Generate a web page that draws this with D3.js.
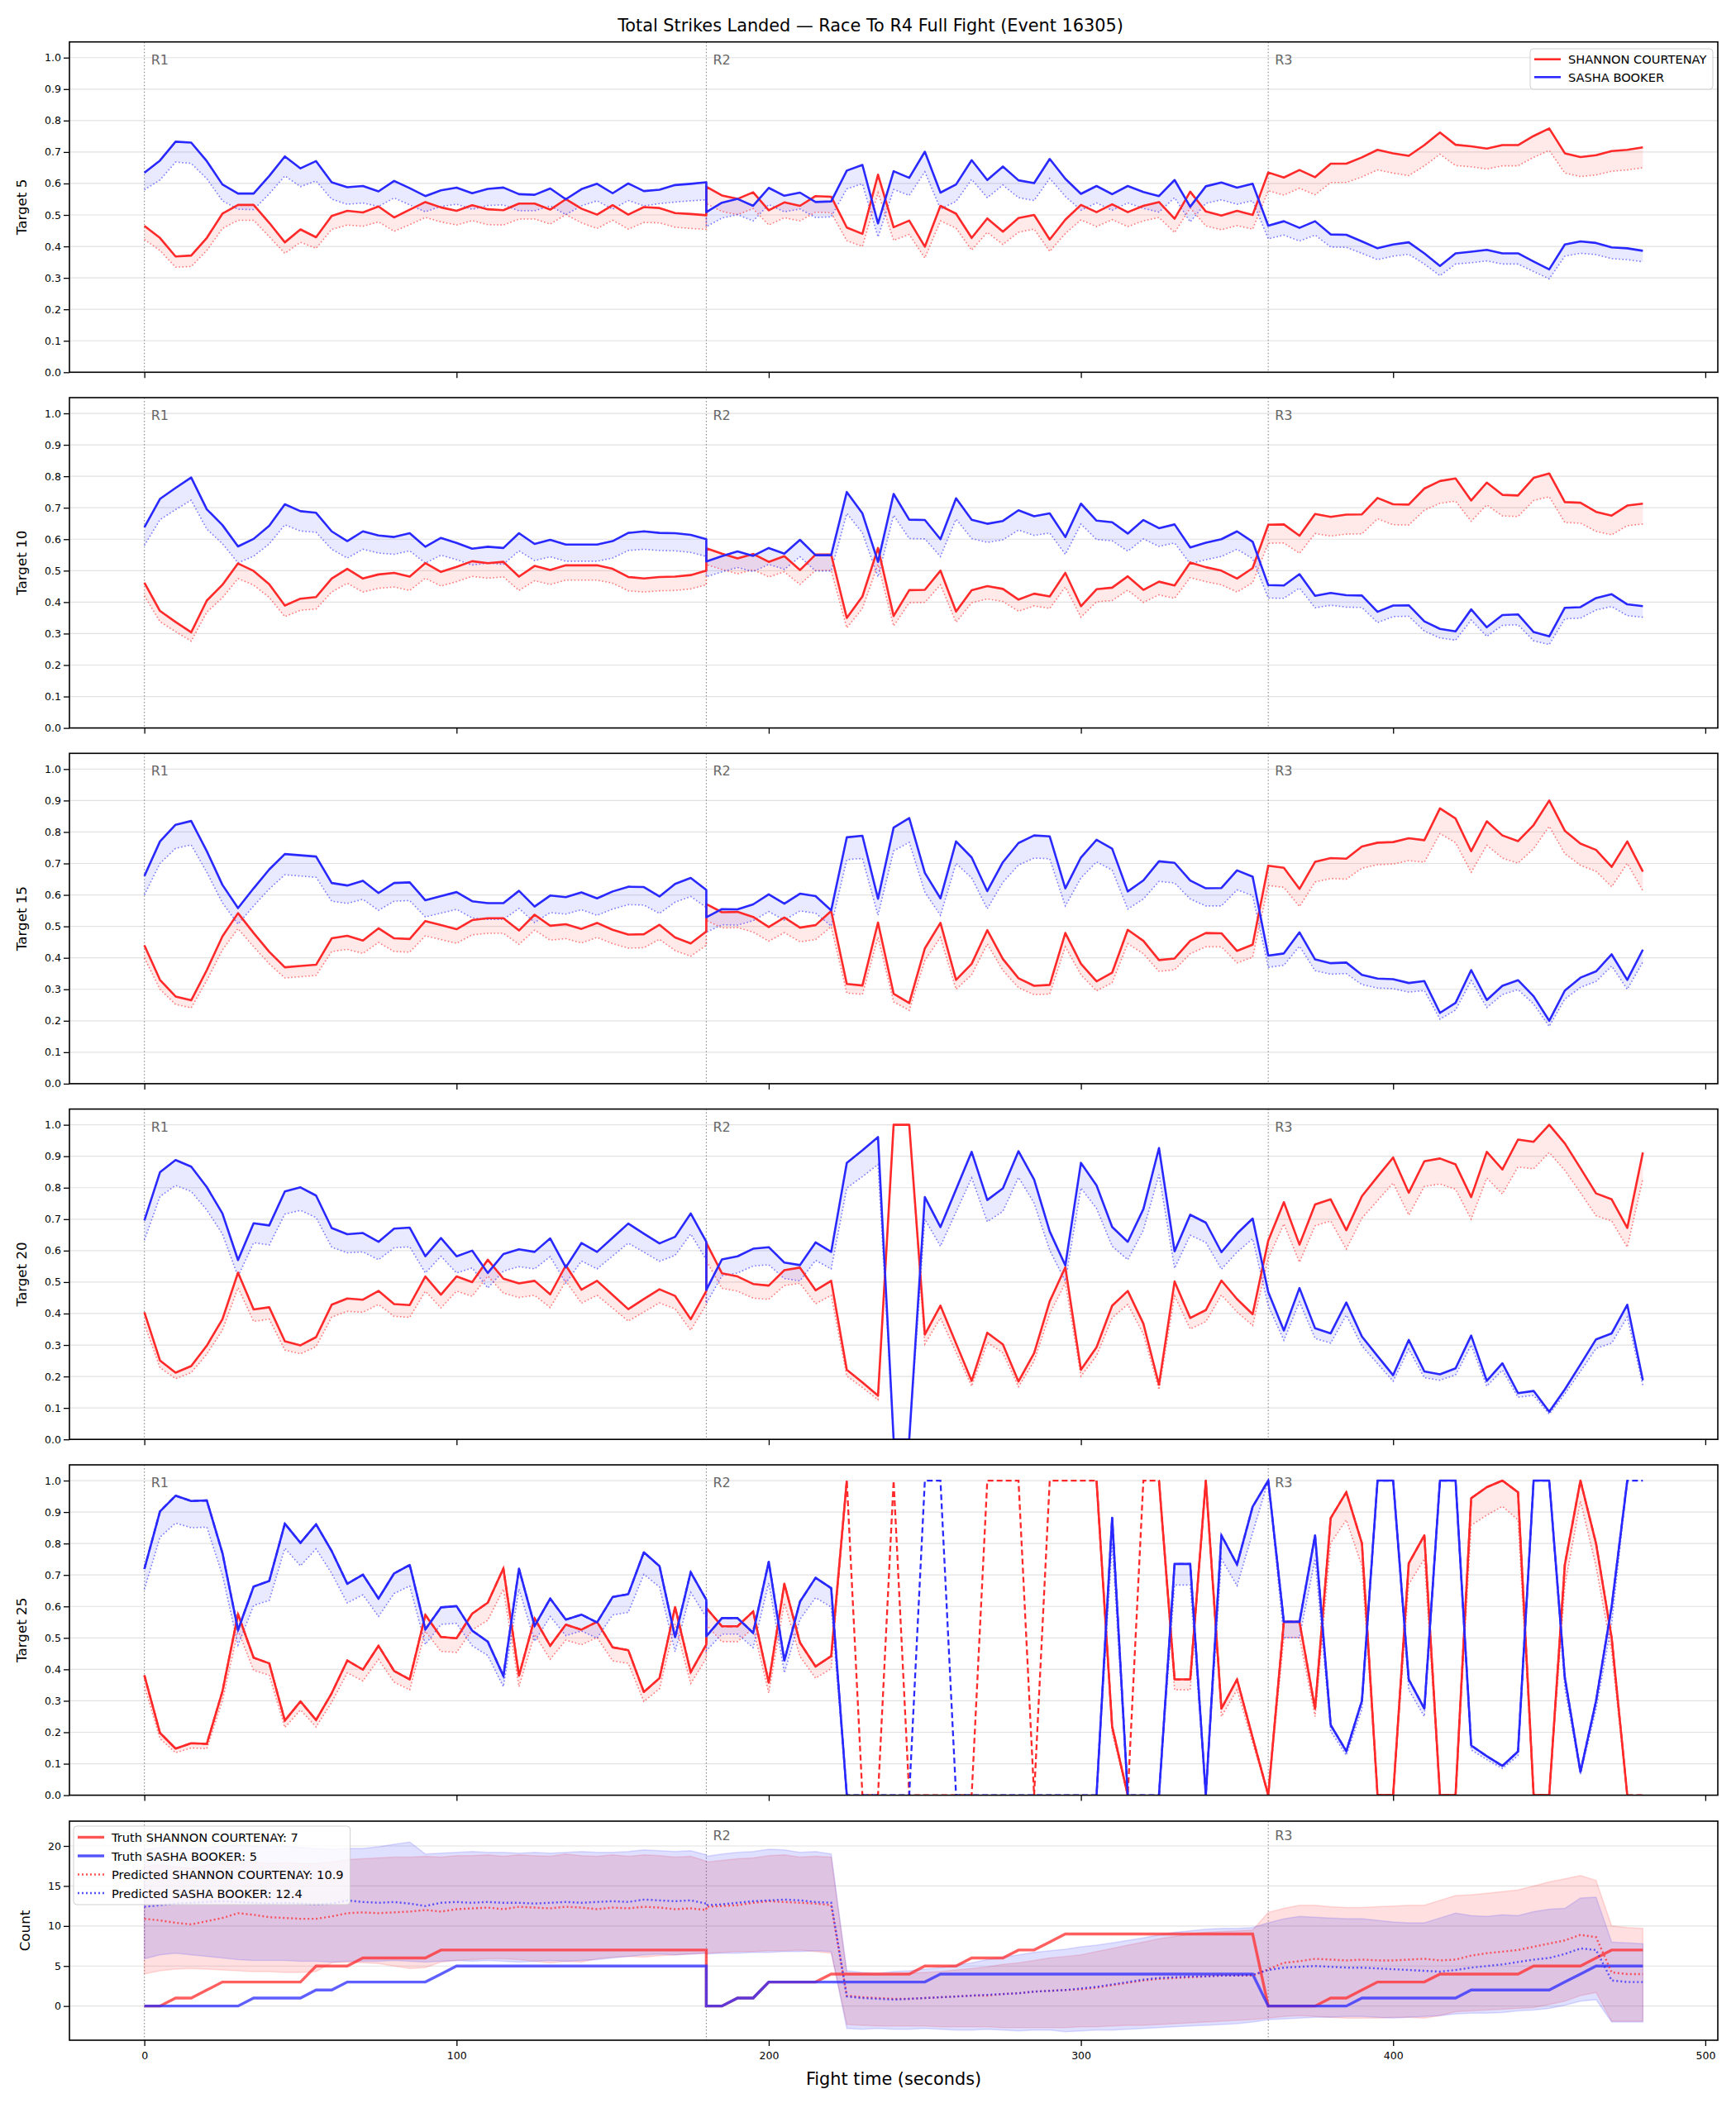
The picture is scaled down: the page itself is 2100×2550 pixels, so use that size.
<!DOCTYPE html>
<html lang="en">
<head>
  <meta charset="UTF-8">
  <title>Total Strikes Landed — Race To R4 Full Fight</title>
  <script src="https://d3js.org/d3.v7.min.js"></script>
  <style>
    body { margin: 0; background: #fff; }
    svg { display: block; font-family: "DejaVu Sans", sans-serif; }
  </style>
</head>
<body>
<svg id="chart" width="2100" height="2550"></svg>
<script>
// -----------------------------
// Data
// -----------------------------
const fighters = ["SHANNON COURTENAY", "SASHA BOOKER"];
const roundStarts = [0, 180, 360];
const roundLabels = ["R1", "R2", "R3"];
const xTicks = [0, 100, 200, 300, 400, 500];

// sample grid: R1 0..180, R2 180..355, R3 360..480 (every 5 s)
const times = [...d3.range(0, 181, 5), ...d3.range(180, 356, 5), ...d3.range(360, 481, 5)];

// Target 5  (solid = line, P = dotted lower edge)
const t5Red = [
0.465,0.427,0.368,0.371,0.427,0.504,0.532,0.532,0.475,0.413,0.454,0.429,0.497,0.513,0.508,0.527,0.492,0.517,0.541,0.524,0.513,0.531,0.518,0.515,0.536,0.536,0.517,0.550,0.520,0.501,0.531,0.501,0.525,0.522,0.506,0.503,0.499,
0.590,0.562,0.551,0.572,0.515,0.540,0.529,0.560,0.558,0.460,0.440,0.628,0.461,0.482,0.399,0.529,0.504,0.427,0.489,0.447,0.490,0.500,0.422,0.485,0.532,0.509,0.534,0.509,0.529,0.541,0.488,0.574,0.511,0.498,0.513,0.500,
0.635,0.619,0.643,0.620,0.663,0.663,0.683,0.707,0.696,0.688,0.722,0.762,0.723,0.718,0.711,0.722,0.722,0.751,0.775,0.696,0.684,0.690,0.703,0.707,0.715];
const t5Blue = [
0.634,0.673,0.733,0.730,0.671,0.597,0.568,0.568,0.624,0.686,0.648,0.671,0.604,0.588,0.592,0.575,0.608,0.585,0.560,0.578,0.587,0.569,0.583,0.587,0.566,0.564,0.584,0.550,0.582,0.599,0.569,0.600,0.576,0.580,0.595,0.599,0.604,
0.509,0.539,0.551,0.529,0.586,0.561,0.571,0.541,0.543,0.641,0.659,0.473,0.639,0.618,0.701,0.571,0.597,0.674,0.611,0.654,0.610,0.601,0.678,0.615,0.567,0.592,0.566,0.592,0.573,0.560,0.611,0.526,0.591,0.603,0.587,0.599,
0.466,0.480,0.459,0.480,0.438,0.437,0.416,0.394,0.406,0.413,0.378,0.338,0.378,0.383,0.389,0.378,0.378,0.352,0.327,0.406,0.416,0.411,0.397,0.394,0.386];
const t5RedP = [
0.422,0.387,0.334,0.336,0.387,0.457,0.483,0.483,0.431,0.378,0.413,0.394,0.454,0.468,0.464,0.478,0.448,0.469,0.492,0.478,0.468,0.482,0.469,0.468,0.487,0.487,0.471,0.501,0.475,0.457,0.483,0.455,0.476,0.475,0.461,0.457,0.454,
0.536,0.511,0.501,0.520,0.468,0.491,0.481,0.509,0.507,0.418,0.400,0.571,0.419,0.438,0.363,0.481,0.458,0.388,0.445,0.406,0.445,0.455,0.384,0.441,0.484,0.463,0.485,0.463,0.481,0.492,0.444,0.522,0.465,0.453,0.466,0.455,
0.577,0.563,0.585,0.564,0.603,0.603,0.621,0.643,0.633,0.625,0.656,0.693,0.657,0.653,0.646,0.656,0.656,0.683,0.705,0.633,0.622,0.627,0.639,0.643,0.650];
const t5BlueP = [
0.580,0.611,0.668,0.664,0.615,0.545,0.518,0.517,0.567,0.624,0.590,0.608,0.550,0.534,0.538,0.527,0.554,0.532,0.510,0.527,0.534,0.518,0.530,0.532,0.513,0.513,0.529,0.501,0.529,0.545,0.518,0.546,0.529,0.536,0.541,0.545,0.548,
0.463,0.490,0.501,0.481,0.533,0.510,0.519,0.492,0.494,0.583,0.599,0.430,0.581,0.562,0.637,0.519,0.543,0.613,0.555,0.595,0.555,0.546,0.616,0.559,0.515,0.538,0.515,0.538,0.521,0.509,0.555,0.478,0.537,0.548,0.534,0.545,
0.424,0.436,0.417,0.436,0.398,0.397,0.378,0.358,0.369,0.375,0.344,0.307,0.344,0.348,0.354,0.344,0.344,0.320,0.297,0.369,0.378,0.374,0.361,0.358,0.351];

// Target 10
const t10Red = [
0.462,0.372,0.337,0.304,0.405,0.455,0.523,0.499,0.457,0.389,0.411,0.416,0.475,0.506,0.475,0.488,0.493,0.481,0.524,0.496,0.512,0.530,0.524,0.528,0.481,0.515,0.502,0.517,0.517,0.517,0.506,0.480,0.475,0.480,0.481,0.486,0.500,
0.571,0.554,0.539,0.553,0.528,0.546,0.502,0.551,0.551,0.350,0.418,0.572,0.356,0.438,0.439,0.500,0.370,0.438,0.451,0.442,0.408,0.427,0.418,0.493,0.387,0.441,0.446,0.482,0.439,0.465,0.453,0.526,0.511,0.500,0.475,0.508,
0.646,0.647,0.611,0.680,0.671,0.678,0.679,0.731,0.711,0.710,0.761,0.785,0.793,0.723,0.780,0.741,0.739,0.795,0.809,0.718,0.716,0.687,0.675,0.707,0.713];
const t10Blue = [
0.638,0.728,0.763,0.796,0.695,0.645,0.577,0.601,0.643,0.711,0.689,0.684,0.625,0.594,0.625,0.612,0.607,0.619,0.576,0.604,0.588,0.570,0.576,0.572,0.619,0.585,0.598,0.583,0.583,0.583,0.594,0.620,0.625,0.620,0.619,0.614,0.600,
0.529,0.546,0.561,0.547,0.572,0.554,0.598,0.549,0.549,0.750,0.682,0.528,0.744,0.662,0.661,0.600,0.730,0.662,0.649,0.658,0.692,0.673,0.682,0.607,0.713,0.659,0.654,0.618,0.661,0.635,0.647,0.574,0.589,0.600,0.625,0.592,
0.454,0.453,0.489,0.420,0.429,0.422,0.421,0.369,0.389,0.390,0.339,0.315,0.307,0.377,0.320,0.359,0.361,0.305,0.291,0.382,0.384,0.413,0.425,0.393,0.387];
const t10RedP = [
0.420,0.338,0.306,0.276,0.368,0.414,0.475,0.454,0.415,0.354,0.374,0.378,0.432,0.460,0.432,0.444,0.448,0.437,0.476,0.451,0.465,0.482,0.476,0.480,0.437,0.468,0.456,0.470,0.470,0.470,0.460,0.436,0.432,0.436,0.437,0.442,0.455,
0.519,0.504,0.490,0.503,0.480,0.496,0.456,0.501,0.501,0.318,0.380,0.520,0.324,0.398,0.399,0.455,0.336,0.398,0.410,0.402,0.371,0.388,0.380,0.448,0.352,0.401,0.405,0.438,0.399,0.423,0.412,0.478,0.465,0.455,0.432,0.462,
0.587,0.588,0.555,0.618,0.610,0.616,0.617,0.665,0.646,0.645,0.692,0.714,0.721,0.657,0.709,0.674,0.672,0.723,0.735,0.653,0.651,0.625,0.614,0.643,0.648];
const t10BlueP = [
0.580,0.662,0.694,0.724,0.632,0.586,0.525,0.546,0.585,0.646,0.626,0.622,0.568,0.540,0.568,0.556,0.552,0.563,0.524,0.549,0.535,0.518,0.524,0.520,0.563,0.532,0.544,0.530,0.530,0.530,0.540,0.564,0.568,0.564,0.563,0.558,0.545,
0.481,0.496,0.510,0.497,0.520,0.504,0.544,0.499,0.499,0.682,0.620,0.480,0.676,0.602,0.601,0.545,0.664,0.602,0.590,0.598,0.629,0.612,0.620,0.552,0.648,0.599,0.595,0.562,0.601,0.577,0.588,0.522,0.535,0.545,0.568,0.538,
0.413,0.412,0.445,0.382,0.390,0.384,0.383,0.335,0.354,0.355,0.308,0.286,0.279,0.343,0.291,0.326,0.328,0.277,0.265,0.347,0.349,0.375,0.386,0.357,0.352];

// Target 15
const t15Red = [
0.440,0.330,0.277,0.265,0.361,0.468,0.542,0.479,0.419,0.370,0.374,0.378,0.462,0.470,0.455,0.494,0.462,0.460,0.517,0.504,0.491,0.520,0.526,0.526,0.487,0.537,0.502,0.507,0.492,0.511,0.489,0.474,0.475,0.505,0.465,0.446,0.484,
0.571,0.545,0.546,0.530,0.498,0.528,0.496,0.504,0.549,0.317,0.312,0.512,0.286,0.256,0.430,0.511,0.330,0.381,0.488,0.396,0.335,0.311,0.314,0.479,0.381,0.325,0.353,0.489,0.454,0.393,0.398,0.454,0.479,0.478,0.422,0.442,
0.693,0.686,0.619,0.705,0.717,0.715,0.754,0.766,0.768,0.780,0.774,0.875,0.843,0.739,0.834,0.789,0.771,0.822,0.900,0.804,0.763,0.743,0.689,0.770,0.674];
const t15Blue = [
0.660,0.770,0.823,0.835,0.739,0.632,0.558,0.621,0.681,0.730,0.726,0.722,0.638,0.630,0.645,0.606,0.638,0.640,0.583,0.596,0.609,0.580,0.574,0.574,0.613,0.563,0.598,0.593,0.608,0.589,0.611,0.626,0.625,0.595,0.635,0.654,0.616,
0.529,0.555,0.554,0.570,0.602,0.572,0.604,0.596,0.551,0.783,0.788,0.588,0.814,0.844,0.670,0.589,0.770,0.719,0.612,0.704,0.765,0.789,0.786,0.621,0.719,0.775,0.747,0.611,0.646,0.707,0.702,0.646,0.621,0.622,0.678,0.658,
0.407,0.414,0.481,0.395,0.383,0.385,0.346,0.334,0.332,0.320,0.326,0.225,0.257,0.361,0.266,0.311,0.329,0.278,0.200,0.296,0.337,0.357,0.411,0.330,0.426];
const t15RedP = [
0.400,0.300,0.252,0.241,0.328,0.425,0.493,0.435,0.381,0.336,0.340,0.344,0.420,0.427,0.414,0.449,0.420,0.418,0.470,0.458,0.446,0.473,0.478,0.478,0.443,0.488,0.456,0.461,0.447,0.465,0.445,0.431,0.432,0.459,0.423,0.405,0.440,
0.519,0.495,0.496,0.482,0.453,0.480,0.451,0.458,0.499,0.288,0.284,0.465,0.260,0.233,0.391,0.465,0.300,0.346,0.444,0.360,0.305,0.283,0.285,0.435,0.346,0.295,0.321,0.445,0.413,0.357,0.362,0.413,0.435,0.435,0.384,0.402,
0.630,0.624,0.563,0.641,0.652,0.650,0.685,0.696,0.698,0.709,0.704,0.795,0.766,0.672,0.758,0.717,0.701,0.747,0.818,0.731,0.694,0.675,0.626,0.700,0.613];
const t15BlueP = [
0.600,0.700,0.748,0.759,0.672,0.575,0.507,0.565,0.619,0.664,0.660,0.656,0.580,0.573,0.586,0.551,0.580,0.582,0.530,0.542,0.554,0.527,0.522,0.522,0.557,0.512,0.544,0.539,0.553,0.535,0.555,0.569,0.568,0.541,0.577,0.595,0.560,
0.481,0.505,0.504,0.518,0.547,0.520,0.549,0.542,0.501,0.712,0.716,0.535,0.740,0.767,0.609,0.535,0.700,0.654,0.556,0.640,0.695,0.717,0.715,0.565,0.654,0.705,0.679,0.555,0.587,0.643,0.638,0.587,0.565,0.565,0.616,0.598,
0.370,0.376,0.437,0.359,0.348,0.350,0.315,0.304,0.302,0.291,0.296,0.205,0.234,0.328,0.242,0.283,0.299,0.253,0.182,0.269,0.306,0.325,0.374,0.300,0.387];

// Target 20
const t20Red = [
0.404,0.251,0.212,0.233,0.298,0.382,0.530,0.413,0.420,0.312,0.299,0.325,0.428,0.448,0.444,0.472,0.430,0.427,0.518,0.460,0.518,0.500,0.571,0.511,0.496,0.504,0.461,0.553,0.476,0.504,0.459,0.414,0.446,0.477,0.456,0.382,0.472,
0.625,0.528,0.518,0.494,0.489,0.538,0.546,0.474,0.504,0.221,0.181,0.139,1.000,1.000,0.333,0.425,0.305,0.186,0.339,0.302,0.184,0.274,0.439,0.547,0.221,0.293,0.425,0.472,0.368,0.174,0.502,0.386,0.411,0.505,0.446,0.398,
0.632,0.754,0.619,0.747,0.763,0.665,0.773,0.835,0.896,0.784,0.884,0.893,0.874,0.770,0.914,0.858,0.953,0.946,1.000,0.941,0.862,0.782,0.763,0.672,0.912];
const t20Blue = [
0.696,0.849,0.888,0.867,0.802,0.718,0.570,0.687,0.680,0.788,0.801,0.775,0.672,0.652,0.656,0.628,0.670,0.673,0.582,0.640,0.582,0.600,0.529,0.589,0.604,0.596,0.639,0.547,0.624,0.596,0.641,0.686,0.654,0.623,0.644,0.718,0.628,
0.475,0.572,0.582,0.606,0.611,0.562,0.554,0.626,0.596,0.879,0.919,0.961,0.000,0.000,0.770,0.675,0.795,0.914,0.761,0.798,0.916,0.826,0.661,0.553,0.879,0.807,0.675,0.628,0.732,0.926,0.598,0.714,0.689,0.595,0.654,0.702,
0.468,0.346,0.481,0.353,0.337,0.435,0.327,0.265,0.204,0.316,0.216,0.207,0.226,0.330,0.186,0.242,0.147,0.154,0.088,0.159,0.238,0.318,0.337,0.428,0.188];
const t20RedP = [
0.367,0.228,0.193,0.212,0.271,0.347,0.482,0.375,0.382,0.284,0.272,0.295,0.389,0.407,0.404,0.429,0.391,0.388,0.471,0.418,0.471,0.455,0.519,0.465,0.451,0.458,0.419,0.503,0.433,0.458,0.417,0.376,0.405,0.434,0.415,0.347,0.429,
0.568,0.480,0.471,0.449,0.445,0.489,0.496,0.431,0.458,0.201,0.165,0.126,1.000,1.000,0.303,0.386,0.277,0.169,0.308,0.275,0.167,0.249,0.399,0.497,0.201,0.266,0.386,0.429,0.335,0.158,0.456,0.351,0.374,0.459,0.405,0.362,
0.575,0.685,0.563,0.679,0.694,0.605,0.703,0.759,0.815,0.713,0.804,0.812,0.795,0.700,0.831,0.780,0.866,0.860,0.912,0.855,0.784,0.711,0.694,0.611,0.829];
const t20BlueP = [
0.633,0.772,0.807,0.788,0.729,0.653,0.518,0.625,0.618,0.716,0.728,0.705,0.611,0.593,0.596,0.571,0.609,0.612,0.529,0.582,0.529,0.545,0.481,0.535,0.549,0.542,0.581,0.497,0.567,0.542,0.583,0.624,0.595,0.566,0.585,0.653,0.571,
0.432,0.520,0.529,0.551,0.555,0.511,0.504,0.569,0.542,0.799,0.835,0.874,0.000,0.000,0.700,0.614,0.723,0.831,0.692,0.725,0.833,0.751,0.601,0.503,0.799,0.734,0.614,0.571,0.665,0.842,0.544,0.649,0.626,0.541,0.595,0.638,
0.425,0.315,0.437,0.321,0.306,0.395,0.297,0.241,0.185,0.287,0.196,0.188,0.205,0.300,0.169,0.220,0.134,0.140,0.080,0.145,0.216,0.289,0.306,0.389,0.171];

// Target 25 (null = no dotted value at that sample)
const t25Red = [
0.381,0.198,0.148,0.165,0.163,0.330,0.575,0.437,0.419,0.237,0.298,0.239,0.324,0.428,0.399,0.475,0.395,0.368,0.573,0.503,0.499,0.577,0.612,0.721,0.380,0.562,0.475,0.542,0.526,0.551,0.470,0.461,0.328,0.372,0.598,0.391,0.479,
0.595,0.537,0.537,0.584,0.358,0.672,0.485,0.409,0.442,1,0,0,1,0,0,0,0,0,1,1,1,0,1,1,1,1,0.218,0,1,1,0.368,0.368,1,0.275,0.368,0.183,
0,0.551,0.551,0.275,0.881,0.963,0.801,0,0,0.737,0.826,0,0,0.944,0.979,1,0.963,0,0,0.733,1,0.8,0.5,0,0];
const t25Blue = [
0.719,0.902,0.952,0.935,0.937,0.770,0.525,0.663,0.681,0.863,0.802,0.861,0.776,0.672,0.701,0.625,0.705,0.732,0.527,0.597,0.601,0.523,0.488,0.379,0.720,0.538,0.625,0.558,0.574,0.549,0.630,0.639,0.772,0.728,0.502,0.709,0.621,
0.505,0.563,0.563,0.516,0.742,0.428,0.615,0.691,0.658,0,0,0,0,0,1,1,0,0,0,0,0,0,0,0,0,0,0.882,0,0,0,0.735,0.735,0,0.826,0.733,0.917,
1,0.551,0.551,0.826,0.223,0.14,0.3,1,1,0.368,0.275,1,1,0.158,0.124,0.093,0.139,1,1,0.374,0.074,0.3,0.6,1,1];
const t25RedP = [
0.346,0.180,0.135,0.150,0.148,0.300,0.523,0.397,0.381,0.215,0.271,0.217,0.295,0.389,0.363,0.432,0.359,0.335,0.521,0.457,0.454,0.525,0.556,0.655,0.345,0.511,0.432,0.493,0.478,0.501,0.427,0.419,0.298,0.338,0.544,0.355,0.435,
0.541,0.488,0.488,0.531,0.325,0.611,0.441,0.372,0.402,1,null,null,null,null,null,null,null,null,null,null,null,null,null,null,null,1,0.198,0,null,1,0.335,0.335,1,0.25,0.335,0.166,
0,0.501,0.501,0.25,0.801,0.875,0.728,0,0,0.67,0.751,0,0,0.858,0.89,0.918,0.875,0,0,0.666,0.935,0.727,0.455,0,null];
const t25BlueP = [
0.654,0.820,0.865,0.850,0.852,0.700,0.477,0.603,0.619,0.785,0.729,0.783,0.705,0.611,0.637,0.568,0.641,0.665,0.479,0.543,0.546,0.475,0.444,0.345,0.655,0.489,0.568,0.507,0.522,0.499,0.573,0.581,0.702,0.662,0.456,0.645,0.565,
0.459,0.512,0.512,0.469,0.675,0.389,0.559,0.628,0.598,0,null,null,null,null,null,null,null,null,null,null,null,null,null,null,null,0,0.802,0,null,0,0.668,0.668,0,0.751,0.666,0.834,
1,0.501,0.501,0.751,0.203,0.127,0.273,1,1,0.335,0.25,1,1,0.144,0.113,0.085,0.126,1,1,0.34,0.067,0.273,0.545,1,null];
// samples where the Target 25 line is only drawn dashed
const t25Gaps = [230,235,240,245,250,255,260,265,270,275,280,285,290,295,300,320,480];

// Count panel
const truthRed = [
0,0,1,1,2,3,3,3,3,3,3,5,5,5,6,6,6,6,6,7,7,7,7,7,7,7,7,7,7,7,7,7,7,7,7,7,7,
0,0,1,1,3,3,3,3,4,4,4,4,4,4,5,5,5,6,6,6,7,7,8,9,9,9,9,9,9,9,9,9,9,9,9,9,
0,0,0,0,1,1,2,3,3,3,3,4,4,4,4,4,4,5,5,5,5,6,7,7,7];
const truthBlue = [
0,0,0,0,0,0,0,1,1,1,1,2,2,3,3,3,3,3,3,4,5,5,5,5,5,5,5,5,5,5,5,5,5,5,5,5,5,
0,0,1,1,3,3,3,3,3,3,3,3,3,3,3,4,4,4,4,4,4,4,4,4,4,4,4,4,4,4,4,4,4,4,4,4,
0,0,0,0,0,0,1,1,1,1,1,1,1,2,2,2,2,2,2,3,4,5,5,5,5];
const predRed = [
10.9,10.7,10.4,10.2,10.6,11.0,11.6,11.4,11.1,11.0,10.9,10.9,11.2,11.6,11.7,11.6,11.7,11.8,12.0,11.8,12.1,12.2,12.3,12.1,12.4,12.3,12.2,12.4,12.3,12.1,12.3,12.2,12.4,12.3,12.1,12.2,12.0,
12.4,12.5,12.6,12.9,13.1,13.0,12.9,12.8,12.6,1.3,1.1,1.0,0.9,0.9,1.0,1.1,1.2,1.3,1.3,1.5,1.6,1.8,1.9,2.0,2.1,2.3,2.6,2.9,3.2,3.4,3.5,3.6,3.7,3.8,3.8,3.8,
4.6,5.4,5.6,5.9,5.8,5.7,5.8,5.7,5.7,5.8,5.9,5.7,5.8,6.3,6.6,6.8,7.0,7.4,7.8,8.2,8.9,8.6,4.2,4.0,4.0];
const predBlue = [
12.4,12.6,12.8,12.9,13.0,13.1,13.0,12.9,12.8,12.9,12.8,12.7,12.8,13.2,13.0,12.9,13.0,12.8,12.5,12.9,13.0,12.9,13.0,12.9,12.9,12.8,12.9,13.0,12.9,13.0,13.1,13.0,13.3,13.2,13.1,13.2,12.8,
12.6,12.7,12.9,13.1,13.2,13.3,13.2,13.0,12.9,1.2,1.0,0.9,0.8,0.9,1.0,1.1,1.2,1.3,1.4,1.5,1.6,1.8,1.9,2.0,2.2,2.4,2.7,3.0,3.3,3.5,3.6,3.7,3.7,3.8,3.8,3.9,
4.5,4.8,4.9,5.0,4.9,4.8,4.8,4.7,4.6,4.5,4.4,4.3,4.5,4.8,5.0,5.2,5.5,5.8,6.0,6.5,7.2,7.0,3.2,3.0,3.0];
const redHi = [
17.5,17.6,17.4,17.2,17.6,17.9,18.2,18.0,17.8,17.9,17.8,17.8,18.0,18.3,18.4,18.5,18.6,18.6,18.7,18.6,18.8,18.8,18.9,18.7,18.9,18.8,18.7,19.0,18.8,18.7,18.9,18.7,18.9,18.8,18.6,18.7,18.1,
18.0,18.2,18.4,18.5,18.8,18.9,18.6,18.7,18.6,4.1,4.0,3.9,4.0,4.1,4.2,4.3,4.5,4.7,4.9,5.2,5.4,5.7,6.0,6.2,6.4,6.8,7.2,7.6,8.0,8.4,8.7,9.0,9.2,9.3,9.4,9.5,
11.7,12.2,12.6,12.6,12.4,12.3,12.3,12.4,12.5,12.6,12.6,13.2,13.8,13.9,14.1,14.3,14.5,15.0,15.5,15.9,16.3,15.7,10.0,9.8,9.7];
const redLo = [
4.0,4.4,4.6,4.7,4.6,4.5,4.4,4.3,4.3,4.2,4.2,4.3,5.4,5.5,5.4,5.3,5.0,4.7,4.8,5.5,5.7,5.8,5.9,5.9,5.8,5.6,5.4,5.6,5.5,5.9,6.1,6.2,6.1,6.3,6.4,6.5,6.6,
6.6,6.7,6.8,6.8,6.9,6.9,7.0,6.8,6.6,-2.3,-2.4,-2.5,-2.5,-2.5,-2.5,-2.6,-2.6,-2.6,-2.6,-2.7,-2.7,-2.7,-2.7,-2.7,-2.6,-2.6,-2.5,-2.4,-2.4,-2.3,-2.2,-2.1,-2.0,-1.9,-1.8,-1.7,
-1.5,-1.3,-1.2,-1.3,-1.4,-1.5,-1.5,-1.5,-1.4,-1.4,-1.5,-1.2,-0.7,-0.6,-0.5,-0.4,-0.3,-0.2,0.2,0.6,1.3,1.7,-1.9,-1.9,-1.9];
const blueHi = [
19.6,19.8,19.9,19.7,19.8,20.0,20.1,20.0,19.9,20.0,19.8,19.7,19.6,19.7,19.7,19.9,20.2,20.5,19.0,19.1,19.2,19.3,19.2,19.2,19.1,19.2,19.1,19.2,19.3,19.2,19.2,19.3,19.5,19.4,19.3,19.4,18.9,
18.7,19.0,19.2,19.3,19.6,19.5,19.2,19.3,19.0,4.4,4.2,4.1,4.3,4.4,4.6,4.8,5.1,5.4,5.8,6.1,6.4,6.7,6.9,7.1,7.4,7.6,7.9,8.2,8.5,8.9,9.2,9.4,9.6,9.7,9.7,9.8,
10.4,10.9,11.2,11.1,11.0,10.9,10.9,10.7,10.5,10.4,10.4,11.0,11.6,11.3,11.2,11.4,11.3,11.8,12.1,12.2,13.5,13.6,8.0,7.9,7.8];
const blueLo = [
5.9,6.4,6.6,6.4,6.2,6.0,5.8,5.7,5.7,5.7,5.6,5.6,5.5,5.6,5.6,5.6,5.7,5.6,5.5,5.6,5.7,5.6,5.7,5.6,5.5,5.6,5.7,5.6,5.7,5.8,6.0,6.2,6.4,6.5,6.4,6.5,6.6,
6.5,6.6,6.6,6.7,6.7,6.8,6.8,6.9,6.8,-2.8,-2.9,-2.8,-2.9,-2.9,-2.8,-2.9,-3.0,-3.0,-2.9,-3.0,-3.1,-3.0,-3.0,-3.2,-3.1,-3.0,-3.0,-2.9,-2.8,-2.7,-2.6,-2.5,-2.4,-2.3,-2.2,-2.0,
-1.7,-1.6,-1.5,-1.4,-1.4,-1.3,-1.3,-1.4,-1.5,-1.4,-1.3,-1.2,-1.0,-0.9,-0.9,-0.8,-0.6,-0.5,-0.3,0.1,0.6,0.8,-2.0,-2.0,-2.0];

// -----------------------------
// Layout
// -----------------------------
const X0 = 84, X1 = 2078;
const panelTops = [50.7, 481, 911.3, 1341.6, 1772, 2203];
const probH = 399.6, countH = 265;
const RED = "#ff2929", BLUE = "#2929ff";
const FONT_TICK = 12.5, FONT_LEG = 14.6, FONT_ROUND = 16, FONT_LAB = 16.7, FONT_TITLE = 20.8;

const svg = d3.select("#chart");
const x = d3.scaleLinear().domain([-24, 504]).range([X0, X1]);
const idx = d3.range(times.length);

function styleAxis(ax) {
  ax.attr("font-size", null).attr("font-family", null);
  ax.select(".domain").remove();
  ax.selectAll(".tick line").attr("stroke", "#000").attr("stroke-width", 1.3);
  ax.selectAll(".tick text").attr("fill", "#000").style("font-size", FONT_TICK + "px");
}

function makePanel(i, h) {
  const g = svg.append("g").attr("transform", `translate(0,${panelTops[i]})`);
  g.append("clipPath").attr("id", "clip" + i)
    .append("rect").attr("x", X0).attr("y", 0).attr("width", X1 - X0).attr("height", h);
  return g;
}

function gridLines(g, y, ticks) {
  g.append("g").selectAll("line").data(ticks).join("line")
    .attr("x1", X0).attr("x2", X1)
    .attr("y1", d => y(d)).attr("y2", d => y(d))
    .attr("stroke", "#e2e2e2").attr("stroke-width", 1.2);
}

function roundLines(g, h) {
  g.append("g").selectAll("line").data(roundStarts).join("line")
    .attr("x1", d => x(d)).attr("x2", d => x(d))
    .attr("y1", 0).attr("y2", h)
    .attr("stroke", "#8a8a8a").attr("stroke-width", 1.1)
    .attr("stroke-dasharray", "1.5,2.5");
}

// skipFirst: the count panel legend covers the R1 label there
function roundText(g, h, skipFirst) {
  const marks = roundStarts.map((d, k) => ({t: d, label: roundLabels[k]}))
    .filter((m, k) => !(skipFirst && k === 0));
  g.append("g").selectAll("text").data(marks).join("text")
    .attr("x", d => x(d.t) + 8)
    .attr("y", 0.03 * h + 15)
    .attr("fill", "#666")
    .style("font-size", FONT_ROUND + "px")
    .text(d => d.label);
}

function frame(g, h, y, yTicks, yFmt, label, labelX, showX) {
  const ay = g.append("g").attr("transform", `translate(${X0},0)`)
    .call(d3.axisLeft(y).tickValues(yTicks).tickFormat(yFmt).tickSize(7).tickPadding(3));
  styleAxis(ay);
  const ax = g.append("g").attr("transform", `translate(0,${h})`)
    .call(d3.axisBottom(x).tickValues(xTicks).tickSize(7).tickPadding(7)
      .tickFormat(showX ? d3.format("d") : ""));
  styleAxis(ax);
  g.append("rect").attr("x", X0).attr("y", 0).attr("width", X1 - X0).attr("height", h)
    .attr("fill", "none").attr("stroke", "#000").attr("stroke-width", 1.6);
  g.append("text")
    .attr("transform", `translate(${labelX},${h / 2}) rotate(-90)`)
    .attr("text-anchor", "middle").attr("dominant-baseline", "central")
    .style("font-size", FONT_LAB + "px")
    .text(label);
}

// -----------------------------
// Probability panels
// -----------------------------
function probPanel(i, label, red, blue, redP, blueP, gaps) {
  const g = makePanel(i, probH);
  const y = d3.scaleLinear().domain([0, 1.05]).range([probH, 0]);
  const ticks = d3.range(0, 11).map(k => k / 10);
  gridLines(g, y, ticks);
  roundLines(g, probH);

  const gapSet = new Set(gaps || []);
  const plot = g.append("g").attr("clip-path", `url(#clip${i})`);
  const series = [[red, redP, RED], [blue, blueP, BLUE]];

  series.forEach(([s, p, c]) => {
    const ok = k => s[k] != null && p[k] != null && !gapSet.has(times[k]);
    plot.append("path").datum(idx)
      .attr("fill", c).attr("fill-opacity", 0.1).attr("stroke", "none")
      .attr("d", d3.area().defined(ok).x(k => x(times[k])).y0(k => y(p[k])).y1(k => y(s[k])));
  });
  series.forEach(([s, p, c]) => {
    const ok = k => p[k] != null && !gapSet.has(times[k]);
    plot.append("path").datum(idx)
      .attr("fill", "none").attr("stroke", c).attr("stroke-opacity", 0.6)
      .attr("stroke-width", 1.6).attr("stroke-dasharray", "1.6,2.6")
      .attr("d", d3.line().defined(ok).x(k => x(times[k])).y(k => y(p[k])));
  });
  series.forEach(([s, p, c]) => {
    if (gapSet.size) {
      plot.append("path").datum(idx)
        .attr("fill", "none").attr("stroke", c).attr("stroke-width", 2.3)
        .attr("stroke-dasharray", "7,4")
        .attr("d", d3.line().defined(k => s[k] != null).x(k => x(times[k])).y(k => y(s[k])));
    }
    plot.append("path").datum(idx)
      .attr("fill", "none").attr("stroke", c).attr("stroke-width", 2.6)
      .attr("stroke-linejoin", "round")
      .attr("d", d3.line().defined(k => s[k] != null && !gapSet.has(times[k]))
        .x(k => x(times[k])).y(k => y(s[k])));
  });

  roundText(g, probH, false);
  frame(g, probH, y, ticks, d3.format(".1f"), label, 26, false);
  return g;
}

const p1 = probPanel(0, "Target 5", t5Red, t5Blue, t5RedP, t5BlueP);
probPanel(1, "Target 10", t10Red, t10Blue, t10RedP, t10BlueP);
probPanel(2, "Target 15", t15Red, t15Blue, t15RedP, t15BlueP);
probPanel(3, "Target 20", t20Red, t20Blue, t20RedP, t20BlueP);
probPanel(4, "Target 25", t25Red, t25Blue, t25RedP, t25BlueP, t25Gaps);

// legend of the first panel
const leg1 = p1.append("g").attr("transform", "translate(1851,8.3)");
leg1.append("rect").attr("width", 221).attr("height", 49).attr("rx", 4)
  .attr("fill", "#fff").attr("fill-opacity", 0.8).attr("stroke", "#cfcfcf");
[RED, BLUE].forEach((c, k) => {
  const yy = 12.7 + k * 21.6;
  leg1.append("line").attr("x1", 5).attr("x2", 37).attr("y1", yy).attr("y2", yy)
    .attr("stroke", c).attr("stroke-width", 2.6);
  leg1.append("text").attr("x", 46).attr("y", yy).attr("dominant-baseline", "central")
    .style("font-size", FONT_LEG + "px").text(fighters[k]);
});

// -----------------------------
// Count panel
// -----------------------------
(function countPanel() {
  const g = makePanel(5, countH);
  const y = d3.scaleLinear().domain([-4.27, 23.1]).range([countH, 0]);
  const ticks = [0, 5, 10, 15, 20];
  gridLines(g, y, ticks);
  roundLines(g, countH);
  const plot = g.append("g").attr("clip-path", "url(#clip5)");
  const xs = k => x(times[k]);

  [[redLo, redHi, RED], [blueLo, blueHi, BLUE]].forEach(([lo, hi, c]) => {
    plot.append("path").datum(idx)
      .attr("fill", c).attr("fill-opacity", 0.15)
      .attr("stroke", c).attr("stroke-opacity", 0.15).attr("stroke-width", 1.5)
      .attr("d", d3.area().x(xs).y0(k => y(lo[k])).y1(k => y(hi[k])));
  });
  [[truthRed, RED], [truthBlue, BLUE]].forEach(([s, c]) => {
    plot.append("path").datum(idx)
      .attr("fill", "none").attr("stroke", c).attr("stroke-opacity", 0.75).attr("stroke-width", 3.4)
      .attr("d", d3.line().x(xs).y(k => y(s[k])));
  });
  [[predRed, RED], [predBlue, BLUE]].forEach(([s, c]) => {
    plot.append("path").datum(idx)
      .attr("fill", "none").attr("stroke", c).attr("stroke-opacity", 0.75).attr("stroke-width", 2.4)
      .attr("stroke-dasharray", "2,3")
      .attr("d", d3.line().x(xs).y(k => y(s[k])));
  });

  roundText(g, countH, true);

  // legend
  const items = [
    {c: RED, dash: null, w: 3.4, t: `Truth ${fighters[0]}: ${truthRed[truthRed.length - 1]}`},
    {c: BLUE, dash: null, w: 3.4, t: `Truth ${fighters[1]}: ${truthBlue[truthBlue.length - 1]}`},
    {c: RED, dash: "2,3", w: 2.4, t: `Predicted ${fighters[0]}: ${predRed[0].toFixed(1)}`},
    {c: BLUE, dash: "2,3", w: 2.4, t: `Predicted ${fighters[1]}: ${predBlue[0].toFixed(1)}`}
  ];
  const leg = g.append("g").attr("transform", "translate(89,6)");
  const box = leg.append("rect").attr("height", 95).attr("rx", 4)
    .attr("fill", "#fff").attr("fill-opacity", 0.8).attr("stroke", "#cfcfcf");
  let maxW = 0;
  items.forEach((it, k) => {
    const yy = 13.5 + k * 22.5;
    leg.append("line").attr("x1", 5).attr("x2", 37).attr("y1", yy).attr("y2", yy)
      .attr("stroke", it.c).attr("stroke-opacity", 0.8).attr("stroke-width", it.w)
      .attr("stroke-dasharray", it.dash);
    const tx = leg.append("text").attr("x", 46).attr("y", yy).attr("dominant-baseline", "central")
      .style("font-size", FONT_LEG + "px").text(it.t);
    maxW = Math.max(maxW, tx.node().getComputedTextLength());
  });
  box.attr("width", 46 + maxW + 8);

  frame(g, countH, y, ticks, d3.format("d"), "Count", 30, true);
})();

// -----------------------------
// Titles
// -----------------------------
svg.append("text").attr("x", 1053).attr("y", 38).attr("text-anchor", "middle")
  .style("font-size", FONT_TITLE + "px")
  .text("Total Strikes Landed — Race To R4 Full Fight (Event 16305)");
svg.append("text").attr("x", 1081).attr("y", 2522).attr("text-anchor", "middle")
  .style("font-size", FONT_TITLE + "px")
  .text("Fight time (seconds)");
</script>
</body>
</html>
